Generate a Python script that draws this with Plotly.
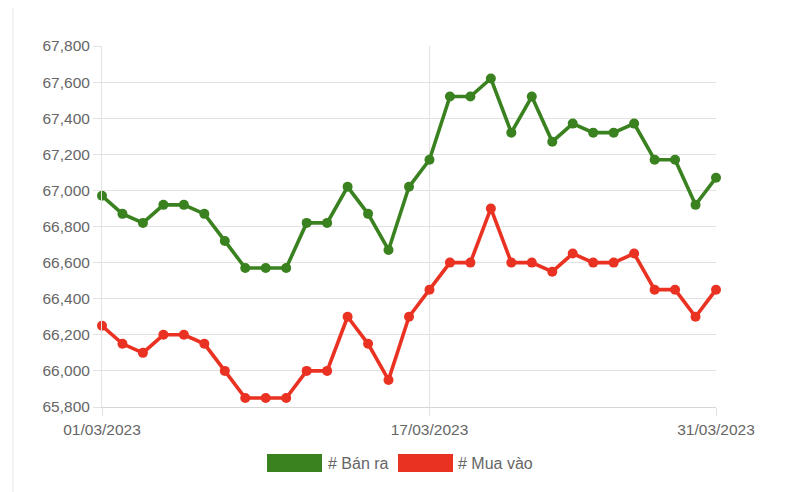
import plotly.graph_objects as go

dates = [f"2023-03-{d:02d}" for d in range(1, 32)]
ban_ra = [66970, 66870, 66820, 66920, 66920, 66870, 66720, 66570, 66570, 66570,
          66820, 66820, 67020, 66870, 66670, 67020, 67170, 67520, 67520, 67620,
          67320, 67520, 67270, 67370, 67320, 67320, 67370, 67170, 67170, 66920, 67070]
mua_vao = [66250, 66150, 66100, 66200, 66200, 66150, 66000, 65850, 65850, 65850,
           66000, 66000, 66300, 66150, 65950, 66300, 66450, 66600, 66600, 66900,
           66600, 66600, 66550, 66650, 66600, 66600, 66650, 66450, 66450, 66300, 66450]
x_tickvals = ["2023-03-01", "2023-03-17", "2023-03-31"]
x_ticktext = ["01/03/2023", "17/03/2023", "31/03/2023"]
y_tickvals = list(range(65800, 67801, 200))
y_ticktext = [f"{v:,}" for v in y_tickvals]
series_names = ["# Bán ra", "# Mua vào"]
colors = ["#3a8120", "#ea3223"]

OFF = 8  # page body margin
W, H = 801 - OFF, 492 - OFF
L, R, T, B = 102 - OFF, 716 - OFF, 46 - OFF, 407 - OFF

def px(xp):
    return (xp - OFF - L) / (R - L)

def py(yp):
    return (B - (yp - OFF)) / (B - T)

fig = go.Figure()
for name, vals, c in zip(series_names, [ban_ra, mua_vao], colors):
    fig.add_trace(go.Scatter(
        x=dates, y=vals, name=name, mode="lines+markers",
        line=dict(color=c, width=3.6),
        marker=dict(color=c, size=10),
        cliponaxis=False, showlegend=False,
    ))

shapes = []
annotations = []
# legend
leg_items = [(267, 322, 328, series_names[0], colors[0]),
             (398, 453, 458, series_names[1], colors[1])]
for x0, x1, tx, name, c in leg_items:
    shapes.append(dict(type="rect", xref="paper", yref="paper",
                       x0=px(x0), x1=px(x1), y0=py(472), y1=py(454),
                       fillcolor=c, line=dict(width=0)))
    annotations.append(dict(xref="paper", yref="paper", x=px(tx), y=py(463),
                            text=name, showarrow=False, xanchor="left", yanchor="middle",
                            xshift=-2,
                            font=dict(size=16, color="#666666",
                                      family="Liberation Sans, Arial, sans-serif")))
# page decoration (left border)
shapes.append(dict(type="line", xref="paper", yref="paper",
                   x0=px(13), x1=px(13), y0=py(492), y1=py(8),
                   line=dict(color="#e6e6e6", width=1)))

fig.update_layout(
    width=W, height=H,
    margin=dict(l=L, r=W - R, t=T, b=H - B),
    paper_bgcolor="white", plot_bgcolor="white",
    font=dict(family="Liberation Sans, Arial, sans-serif", size=15.5, color="#666666"),
    shapes=shapes, annotations=annotations,
    xaxis=dict(
        type="date", range=["2023-03-01", "2023-03-31"],
        tickvals=x_tickvals, ticktext=x_ticktext,
        showgrid=True, gridcolor="#e2e2e2", gridwidth=1,
        ticks="outside", ticklen=8, tickcolor="#e2e2e2",
        showline=True, linecolor="#d6d6d6", linewidth=1,
        zeroline=False, tickfont=dict(size=15.5, color="#666666"),
    ),
    yaxis=dict(
        range=[65800, 67800], tickvals=y_tickvals, ticktext=y_ticktext,
        showgrid=True, gridcolor="#e2e2e2", gridwidth=1,
        ticks="outside", ticklen=8, tickcolor="#e2e2e2",
        showline=True, linecolor="#e2e2e2", linewidth=1,
        zeroline=False, tickfont=dict(size=15.5, color="#666666"),
    ),
)

fig.write_html("out.html")
